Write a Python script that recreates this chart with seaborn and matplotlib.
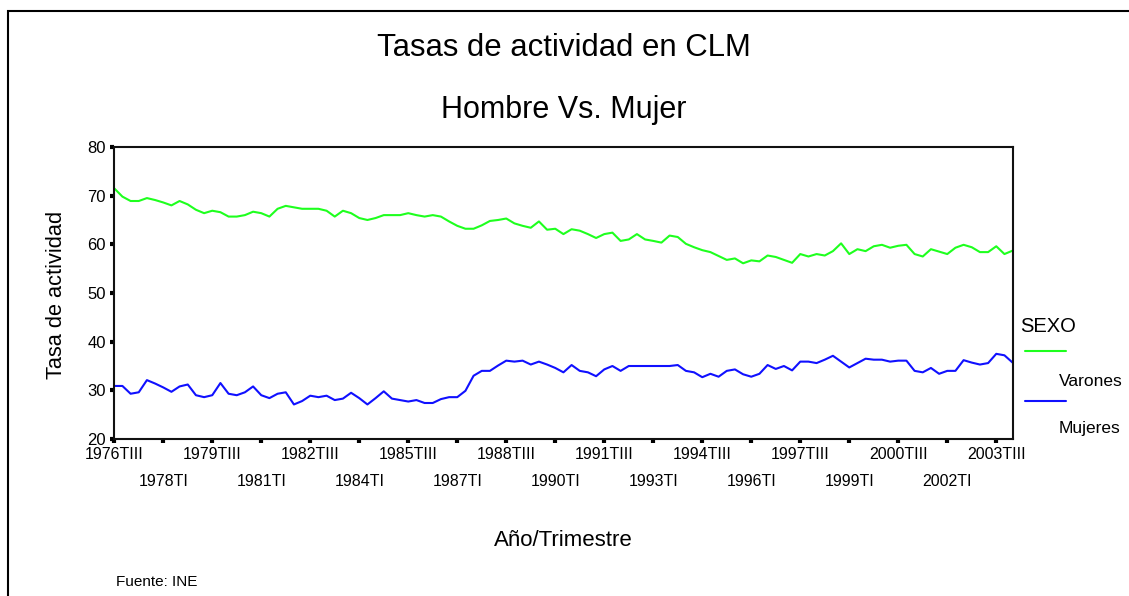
import numpy as np
import pandas as pd
import matplotlib
matplotlib.use("Agg")
import matplotlib.pyplot as plt
from matplotlib.lines import Line2D
from matplotlib.patches import Rectangle
import seaborn as sns

# quarterly series, 1976 TIII .. 2004 TI
varones = [71.5, 69.8, 68.9, 68.9, 69.5, 69.1, 68.6, 68.0, 68.9, 68.2,
           67.1, 66.4, 66.9, 66.6, 65.7, 65.7, 66.0, 66.7, 66.4, 65.7,
           67.3, 67.9, 67.6, 67.3, 67.3, 67.3, 66.9, 65.7, 66.9, 66.4,
           65.4, 65.0, 65.4, 66.0, 66.0, 66.0, 66.4, 66.0, 65.7, 66.0,
           65.7, 64.7, 63.8, 63.2, 63.2, 63.9, 64.8, 65.0, 65.3, 64.3,
           63.8, 63.4, 64.7, 63.0, 63.2, 62.1, 63.1, 62.8, 62.1, 61.3,
           62.1, 62.4, 60.7, 61.0, 62.1, 61.0, 60.7, 60.35, 61.8, 61.5,
           60.1, 59.4, 58.8, 58.4, 57.6, 56.8, 57.1, 56.1, 56.7, 56.5,
           57.7, 57.4, 56.8, 56.2, 58.0, 57.5, 58.0, 57.7, 58.6, 60.2,
           58.0, 59.0, 58.6, 59.6, 59.9, 59.3, 59.7, 59.9, 58.0, 57.5,
           59.0, 58.5, 58.0, 59.3, 59.9, 59.4, 58.4, 58.4, 59.6, 58.0,
           58.7]
mujeres = [30.9, 30.9, 29.3, 29.6, 32.1, 31.4, 30.6, 29.7, 30.8, 31.2,
           29.0, 28.6, 29.0, 31.5, 29.3, 29.0, 29.6, 30.8, 29.0, 28.4,
           29.3, 29.6, 27.1, 27.8, 28.9, 28.6, 28.9, 28.0, 28.3, 29.5,
           28.4, 27.1, 28.4, 29.8, 28.3, 28.0, 27.7, 28.0, 27.4, 27.4,
           28.2, 28.6, 28.6, 29.9, 33.0, 34.0, 34.0, 35.1, 36.1, 35.9,
           36.1, 35.3, 35.9, 35.3, 34.6, 33.7, 35.2, 34.0, 33.7, 32.9,
           34.3, 35.0, 34.0, 35.0, 35.0, 35.0, 35.0, 35.0, 35.0, 35.2,
           34.0, 33.7, 32.7, 33.4, 32.8, 34.0, 34.3, 33.3, 32.8, 33.4,
           35.2, 34.4, 35.0, 34.1, 35.9, 35.9, 35.6, 36.3, 37.1, 35.9,
           34.7, 35.6, 36.5, 36.3, 36.3, 35.9, 36.1, 36.1, 34.0, 33.7,
           34.6, 33.4, 34.0, 34.0, 36.2, 35.7, 35.3, 35.6, 37.5, 37.2,
           35.7]

roman = ["I", "II", "III", "IV"]
periodos = [f"{1976 + (q + 2) // 4}T{roman[(q + 2) % 4]}" for q in range(len(varones))]
x = np.arange(len(periodos))

df = pd.DataFrame({
    "t": np.concatenate([x, x]),
    "tasa": varones + mujeres,
    "SEXO": ["Varones"] * len(varones) + ["Mujeres"] * len(mujeres),
})

sns.set_style("white")
plt.rcParams["font.family"] = ["Liberation Sans", "DejaVu Sans"]
plt.rcParams["text.color"] = "black"
plt.rcParams["xtick.color"] = "black"
plt.rcParams["ytick.color"] = "black"

colores = {"Varones": "#1eff1e", "Mujeres": "#1010ff"}

fig = plt.figure(figsize=(11.29, 5.96), dpi=100)
ax = fig.add_axes([0.1012, 0.2634, 0.7957, 0.49])
sns.lineplot(data=df, x="t", y="tasa", hue="SEXO", palette=colores,
             linewidth=1.5, legend=False, ax=ax)

ax.set_xlim(0, len(periodos) - 1)
ax.set_ylim(20, 80)
ax.set_yticks([20, 30, 40, 50, 60, 70, 80])

mayor = x[::12]
menor = x[6::12]
ax.set_xticks(mayor)
ax.set_xticklabels([periodos[i] for i in mayor])
ax.set_xticks(menor, minor=True)
ax.set_xticklabels([periodos[i] for i in menor], minor=True)
ax.tick_params(axis="x", which="major", length=3, width=3, pad=3, labelsize=11.5)
ax.tick_params(axis="x", which="minor", length=3, width=3, pad=22, labelsize=11.5)
ax.tick_params(axis="y", length=3, width=3, pad=3, labelsize=12)
ax.tick_params(axis="both", which="both", direction="out", color="black",
               labelcolor="black", bottom=True, left=True)
for s in ax.spines.values():
    s.set_visible(True)
    s.set_color("#111111")
    s.set_linewidth(1.5)
ax.set_xlabel("")
ax.set_ylabel("")

cx = 563.5 / 1129
fig.text(cx, 1 - 48 / 596, "Tasas de actividad en CLM", ha="center", va="center", fontsize=22.4)
fig.text(cx, 1 - 110 / 596, "Hombre Vs. Mujer", ha="center", va="center", fontsize=22)
fig.text(57 / 1129, 1 - 295 / 596, "Tasa de actividad", ha="center", va="center",
         rotation=90, fontsize=15.7)
fig.text(cx, 1 - 540 / 596, "Año/Trimestre", ha="center", va="center", fontsize=16)
fig.text(116 / 1129, 1 - 582 / 596, "Fuente: INE", ha="left", va="center", fontsize=11)

# legend drawn by hand, SPSS style
fig.text(1020 / 1129, 1 - 326 / 596, "SEXO", ha="left", va="center", fontsize=14.5)
for yl, yt, nombre in [(351, 382, "Varones"), (401, 429, "Mujeres")]:
    fig.add_artist(Line2D([1025 / 1129, 1066 / 1129], [1 - yl / 596, 1 - yl / 596],
                          color=colores[nombre], linewidth=1.5))
    fig.text(1059 / 1129, 1 - yt / 596, nombre, ha="left", va="center", fontsize=12.5)

# outer frame (only left and top edges fall inside the image)
fig.add_artist(Rectangle((8 / 1129, -0.1), 1.2, 1 - 11 / 596 + 0.1,
                         transform=fig.transFigure, fill=False,
                         edgecolor="black", linewidth=1.5))

fig.savefig("out.png", dpi=100)
